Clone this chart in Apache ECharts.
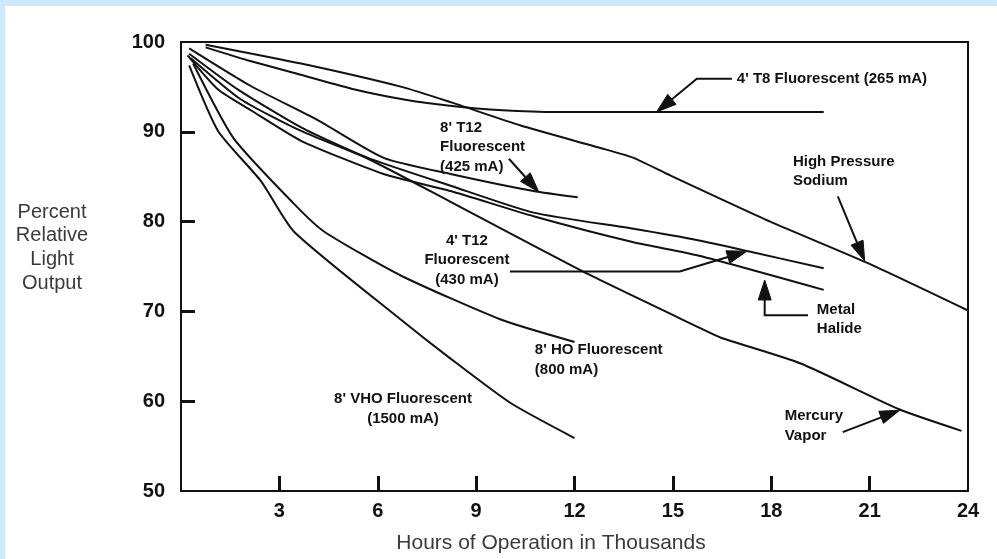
<!DOCTYPE html>
<html>
<head>
<meta charset="utf-8">
<script src="https://cdn.jsdelivr.net/npm/echarts@6/dist/echarts.min.js"></script>
<style>
  html, body { margin: 0; padding: 0; background: #cde9fb; }
  #paper { position: absolute; left: 5px; top: 6px; right: 0; bottom: 0; background: #ffffff; }
  #chart { position: absolute; left: 0; top: 0; width: 997px; height: 559px; }
</style>
</head>
<body>
<div id="paper"></div>
<div id="chart"></div>
<script>
// Lamp lumen depreciation: percent of initial light output vs. thousands of operating hours
const hourTicks = [0, 3, 6, 9, 12, 15, 18, 21, 24];
const percentTicks = [50, 60, 70, 80, 90, 100];

const t8Fluorescent265 = [[0.75, 99.4], [2.0, 98.0], [3.4, 96.6], [5.2, 94.8], [6.8, 93.6], [8.2, 92.9], [9.8, 92.4], [11.5, 92.2], [19.6, 92.2]];
const highPressureSodium = [[0.75, 99.7], [3.66, 97.6], [6.73, 95.0], [8.22, 93.3], [10.36, 90.7], [12.79, 88.2], [13.8, 87.1], [14.83, 85.3], [17.97, 80.0], [20.93, 75.4], [24.0, 70.1]];
const t12Fluorescent425 = [[0.25, 99.3], [2.13, 95.1], [4.17, 91.3], [6.18, 87.1], [8.22, 85.3], [10.75, 83.4], [12.1, 82.7]];
const t12Fluorescent430 = [[0.25, 98.7], [1.74, 94.7], [3.66, 90.5], [5.7, 87.1], [8.22, 84.0], [10.75, 81.0], [13.8, 79.2], [15.8, 77.9], [17.3, 76.7], [19.6, 74.8]];
const metalHalide = [[0.2, 98.5], [1.13, 94.7], [2.13, 92.4], [3.66, 89.0], [6.18, 85.3], [8.22, 83.4], [10.75, 80.6], [13.8, 77.7], [15.8, 76.2], [19.6, 72.4]];
const mercuryVapor = [[0.3, 98.2], [1.83, 93.6], [3.66, 90.1], [5.7, 87.0], [8.22, 82.2], [12.5, 74.0], [15.8, 68.2], [16.45, 67.1], [18.9, 64.2], [21.9, 59.1], [23.8, 56.7]];
const hoFluorescent800 = [[0.37, 97.6], [1.6, 89.3], [3.44, 82.0], [4.36, 78.9], [6.7, 74.0], [9.75, 69.1], [12.0, 66.6]];
const vhoFluorescent1500 = [[0.25, 97.4], [1.13, 90.1], [2.44, 84.5], [3.44, 78.9], [6.7, 69.1], [8.2, 64.8], [10.05, 59.8], [12.0, 55.9]];

const curves = [
  ["4' T8 Fluorescent (265 mA)", t8Fluorescent265],
  ['High Pressure Sodium', highPressureSodium],
  ["8' T12 Fluorescent (425 mA)", t12Fluorescent425],
  ["4' T12 Fluorescent (430 mA)", t12Fluorescent430],
  ['Metal Halide', metalHalide],
  ['Mercury Vapor', mercuryVapor],
  ["8' HO Fluorescent (800 mA)", hoFluorescent800],
  ["8' VHO Fluorescent (1500 mA)", vhoFluorescent1500]
];

// Callout texts: lines, anchor [hours, percent], alignment
const callouts = [
  { lines: ["4' T8 Fluorescent (265 mA)"], at: [16.95, 95.9], align: 'left' },
  { lines: ['High Pressure', 'Sodium'], at: [18.66, 86.67], align: 'left' },
  { lines: ["8' T12", 'Fluorescent', '(425 mA)'], at: [7.9, 90.44], align: 'left' },
  { lines: ["4' T12", 'Fluorescent', '(430 mA)'], at: [8.72, 77.9], align: 'center' },
  { lines: ['Metal', 'Halide'], at: [19.39, 70.22], align: 'left' },
  { lines: ["8' HO Fluorescent", '(800 mA)'], at: [10.79, 65.67], align: 'left' },
  { lines: ["8' VHO Fluorescent", '(1500 mA)'], at: [6.77, 60.22], align: 'center' },
  { lines: ['Mercury', 'Vapor'], at: [18.41, 58.33], align: 'left' }
];
// Leader paths [hours, percent]; the last point carries the arrow head
const leaders = [
  [[16.8, 95.9], [15.73, 95.9], [14.5, 92.2]],
  [[20.03, 82.8], [20.85, 75.6]],
  [[10.0, 87.0], [10.91, 83.3]],
  [[10.03, 74.44], [15.21, 74.44], [17.26, 76.7]],
  [[19.12, 69.56], [17.8, 69.56], [17.8, 73.5]],
  [[20.18, 56.56], [21.92, 59.0]]
];

const FONT = "'Liberation Sans', Arial, Helvetica, sans-serif";
const INK = '#111111';

const chart = echarts.init(document.getElementById('chart'), null, { renderer: 'canvas' });

const option = {
  backgroundColor: 'transparent',
  animation: false,
  grid: {
    left: 181, right: 29, top: 42, bottom: 68, outerBoundsMode: 'none', containLabel: false,
    show: true, borderColor: INK, borderWidth: 2, backgroundColor: 'transparent'
  },
  xAxis: {
    type: 'value', min: hourTicks[0], max: hourTicks[hourTicks.length - 1], interval: 3,
    axisLine: { show: true, lineStyle: { color: INK, width: 2 } },
    axisTick: { show: true, inside: true, length: 15, lineStyle: { color: INK, width: 3 },
      customValues: hourTicks.slice(1, -1) },
    axisLabel: { margin: 10, fontFamily: FONT, fontWeight: 'bold', fontSize: 20, color: INK,
      formatter: v => (hourTicks.indexOf(v) > 0 ? String(v) : '') },
    splitLine: { show: false }
  },
  yAxis: {
    type: 'value', min: percentTicks[0], max: percentTicks[percentTicks.length - 1], interval: 10,
    axisLine: { show: true, lineStyle: { color: INK, width: 2 } },
    axisTick: { show: true, inside: true, length: 14, lineStyle: { color: INK, width: 3 },
      customValues: percentTicks.slice(1, -1) },
    axisLabel: { margin: 16, fontFamily: FONT, fontWeight: 'bold', fontSize: 20, color: INK },
    splitLine: { show: false }
  },
  series: curves.map(([name, data]) => ({
    name, type: 'line', data, symbol: 'none', smooth: 0.2,
    lineStyle: { color: INK, width: 2 }, z: 3
  }))
};
chart.setOption(option);

// Build callouts in pixel space from data anchors
const px = p => chart.convertToPixel({ gridIndex: 0 }, p);
const graphics = [];
const LINE_H = 19.5;

callouts.forEach(c => {
  const [x, y] = px(c.at);
  c.lines.forEach((t, i) => {
    graphics.push({
      type: 'text', x, y: y + i * LINE_H, z: 10,
      style: { text: t, font: 'bold 15px ' + FONT, fill: INK, align: c.align, verticalAlign: 'middle' }
    });
  });
});

const ARROW_L = 20, ARROW_W = 6.5;
leaders.forEach(path => {
  const pts = path.map(px);
  const tip = pts[pts.length - 1];
  const prev = pts[pts.length - 2];
  const dx = tip[0] - prev[0], dy = tip[1] - prev[1];
  const len = Math.hypot(dx, dy);
  const ux = dx / len, uy = dy / len;
  const base = [tip[0] - ux * ARROW_L, tip[1] - uy * ARROW_L];
  const linePts = pts.slice(0, -1).concat([[tip[0] - ux * 6, tip[1] - uy * 6]]);
  graphics.push({
    type: 'polyline', z: 10, shape: { points: linePts },
    style: { stroke: INK, lineWidth: 2, fill: null }
  });
  graphics.push({
    type: 'polygon', z: 10,
    shape: { points: [tip, [base[0] - uy * ARROW_W, base[1] + ux * ARROW_W], [base[0] + uy * ARROW_W, base[1] - ux * ARROW_W]] },
    style: { fill: INK, stroke: INK, lineWidth: 1 }
  });
});

// Axis titles
['Percent', 'Relative', 'Light', 'Output'].forEach((t, i) => {
  graphics.push({
    type: 'text', x: 52, y: 212 + i * 23.7, z: 10,
    style: { text: t, font: '20px ' + FONT, fill: '#3a3a3a', align: 'center', verticalAlign: 'middle' }
  });
});
graphics.push({
  type: 'text', x: 551, y: 543, z: 10,
  style: { text: 'Hours of Operation in Thousands', font: '21px ' + FONT, fill: '#3a3a3a', align: 'center', verticalAlign: 'middle' }
});

chart.setOption({ graphic: graphics });
</script>
</body>
</html>
